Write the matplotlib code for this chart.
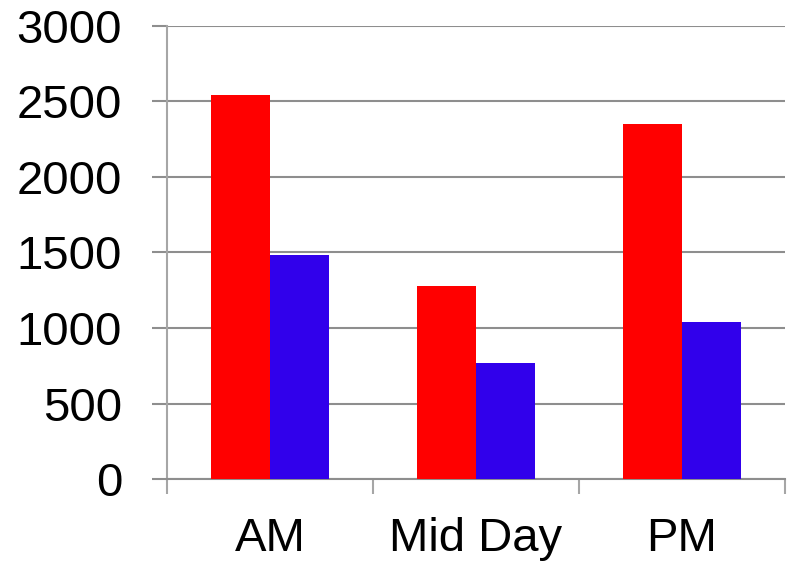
import matplotlib
matplotlib.use("Agg")
import matplotlib.pyplot as plt
import numpy as np

categories = ["AM", "Mid Day", "PM"]
series_a = [2540, 1280, 2350]
series_b = [1480, 770, 1040]
y_ticks = [0, 500, 1000, 1500, 2000, 2500, 3000]

RED = "#FF0000"
BLUE = "#3100EB"
GRID = "#8E8E8E"
AXIS = "#A6A6A6"

plt.rcParams["font.family"] = ["Liberation Sans", "DejaVu Sans"]
FS = 34

fig = plt.figure(figsize=(7.88, 5.61), dpi=100)
ax = fig.add_axes([0.212, 0.146, 0.784, 0.808])

x = np.arange(len(categories))
w = 0.286
ax.bar(x - w / 2, series_a, width=w, color=RED, zorder=3)
ax.bar(x + w / 2, series_b, width=w, color=BLUE, zorder=3)

ax.set_xlim(-0.5, len(categories) - 0.5)
ax.set_ylim(0, 3000)
ax.set_yticks(y_ticks)
ax.set_yticklabels([str(v) for v in y_ticks], fontsize=FS)

# boundaries between categories carry the tick marks; labels sit centered
ax.set_xticks(np.arange(-0.5, len(categories), 1.0))
ax.set_xticklabels([])
ax.set_xticks(x, minor=True)
ax.set_xticklabels(categories, minor=True, fontsize=FS)
ax.tick_params(axis="x", which="major", length=10.8, width=1.5, color=AXIS, direction="out")
ax.tick_params(axis="x", which="minor", length=0, pad=27)
ax.tick_params(axis="y", length=10.8, width=1.5, color=GRID, direction="out", pad=21.6)

ax.yaxis.grid(True, color=GRID, linewidth=1.5, zorder=0)
ax.set_axisbelow(True)

for s in ("top", "right"):
    ax.spines[s].set_visible(False)
ax.spines["left"].set_color(AXIS)
ax.spines["left"].set_linewidth(1.5)
ax.spines["bottom"].set_color(GRID)
ax.spines["bottom"].set_linewidth(1.5)

fig.savefig("out.png", dpi=100)
